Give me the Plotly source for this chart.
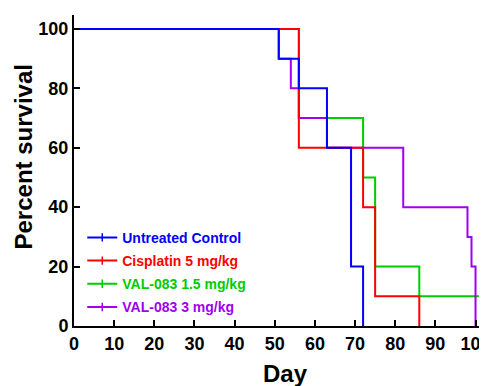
import plotly.graph_objects as go

# Kaplan-Meier step data (day at which survival changes, survival %)
names = ["Untreated Control", "Cisplatin 5 mg/kg", "VAL-083 1.5 mg/kg", "VAL-083 3 mg/kg"]
colors = ["#0000FF", "#FF0000", "#00CC00", "#A000F0"]

untreated_days = [0, 51, 56, 63, 69, 72]
untreated_surv = [100, 90, 80, 60, 20, 0]

cisplatin_days = [0, 56, 72, 75, 86]
cisplatin_surv = [100, 60, 40, 10, 0]

val15_days = [0, 56, 72, 75, 86, 102.6]
val15_surv = [100, 70, 50, 20, 10, 0]

val3_days = [0, 51, 54, 56, 63, 82, 98, 99, 100]
val3_surv = [100, 90, 80, 70, 60, 40, 30, 20, 0]

x_ticks = [0, 10, 20, 30, 40, 50, 60, 70, 80, 90, 100]
y_ticks = [0, 20, 40, 60, 80, 100]

x_title = "Day"
y_title = "Percent survival"

series = [
    (untreated_days, untreated_surv),
    (cisplatin_days, cisplatin_surv),
    (val15_days, val15_surv),
    (val3_days, val3_surv),
]

FONT = "Arial, Liberation Sans, sans-serif"
fig = go.Figure()

# draw order: green, purple, red, blue (blue on top)
for i in [2, 3, 1, 0]:
    d, s = series[i]
    fig.add_trace(go.Scatter(x=d, y=s, mode="lines", line=dict(color=colors[i], width=2, shape="hv"),
                             showlegend=False, hoverinfo="skip"))

# legend entries (censor-tick style), text coloured like the series
for i in range(4):
    fig.add_trace(go.Scatter(x=[None], y=[None], mode="lines+markers",
                             name=f"<span style='color:{colors[i]}'>{names[i]}</span>",
                             legendgroup=f"g{i}",
                             line=dict(color=colors[i], width=2),
                             marker=dict(symbol="line-ns", size=6, color=colors[i],
                                         line=dict(color=colors[i], width=1.5))))

# page body has an 8px margin, so the figure is sized to 479x378
fig.update_layout(
    width=479, height=378,
    margin=dict(l=66, r=0, t=7, b=60),
    paper_bgcolor="white", plot_bgcolor="white",
    font=dict(family=FONT, color="black"),
    showlegend=True,
    legend=dict(x=0.02, y=0.335, xanchor="left", yanchor="top",
                bgcolor="rgba(0,0,0,0)", tracegroupgap=2, traceorder="grouped",
                font=dict(family=FONT, size=14, weight=700)),
    xaxis=dict(range=[0, 102.86], tickvals=x_ticks, ticks="inside", ticklen=6, tickwidth=2,
               tickcolor="black", showline=True, linewidth=2, linecolor="black",
               showgrid=False, zeroline=False, automargin=False, ticklabeloverflow="allow",
               tickfont=dict(family=FONT, size=18, weight=700, color="black")),
    yaxis=dict(range=[0, 104.7], tickvals=y_ticks, ticks="inside", ticklen=6, tickwidth=2,
               tickcolor="black", showline=True, linewidth=2, linecolor="black",
               showgrid=False, zeroline=False, automargin=False, ticklabeloverflow="allow",
               tickfont=dict(family=FONT, size=18, weight=700, color="black")),
    annotations=[
        dict(text=x_title, xref="paper", yref="paper", x=0.511, y=0, yshift=-47,
             xanchor="center", yanchor="middle", showarrow=False,
             font=dict(family=FONT, size=24, weight=700, color="black")),
        dict(text=y_title, xref="paper", yref="paper", x=0, xshift=-50, y=0.5418,
             xanchor="center", yanchor="middle", textangle=-90, showarrow=False,
             font=dict(family=FONT, size=24, weight=700, color="black")),
    ],
)

fig.write_html("out.html")
